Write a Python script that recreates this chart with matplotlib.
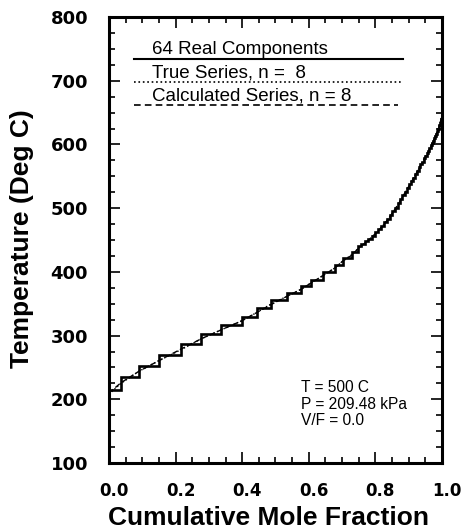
import matplotlib
matplotlib.use("Agg")
from matplotlib import pyplot as plt
from matplotlib.ticker import MultipleLocator
import matplotlib.transforms as mtransforms

plt.rcParams['font.family'] = ['Liberation Sans', 'DejaVu Sans']

# staircase of the 64 real components: step edges and level of each step
step_edges = [0.0, 0.036, 0.090, 0.151, 0.217, 0.277, 0.337, 0.398, 0.443, 0.488,
              0.536, 0.578, 0.608, 0.642, 0.678, 0.702, 0.729, 0.747, 0.758, 0.769,
              0.779, 0.789, 0.799, 0.808, 0.817, 0.826, 0.835, 0.843, 0.851, 0.859,
              0.867, 0.874, 0.881, 0.888, 0.895, 0.901, 0.907, 0.913, 0.919, 0.925,
              0.930, 0.935, 0.940, 0.945, 0.950, 0.954, 0.958, 0.962, 0.966, 0.970,
              0.973, 0.976, 0.979, 0.982, 0.985, 0.988, 0.990, 0.992, 0.994, 0.996,
              0.997, 0.998, 0.999, 0.9995, 1.0]
step_temps = [214, 235, 252, 269, 287, 302, 316, 329, 343, 356,
              367, 378, 387, 400, 411, 422, 431, 440, 444, 448,
              452, 457, 462, 467, 472, 478, 483, 489, 495, 501,
              508, 514, 520, 526, 532, 538, 543, 548, 554, 559,
              564, 569, 573, 578, 582, 586, 590, 594, 599, 603,
              606, 610, 614, 617, 621, 625, 628, 630, 633, 636,
              638, 640, 642, 644]

# smooth series curves (true and calculated, n = 8)
true_x = [0.0, 0.036, 0.090, 0.151, 0.217, 0.277, 0.337, 0.398, 0.443, 0.488,
          0.536, 0.578, 0.608, 0.642, 0.678, 0.702, 0.729, 0.747, 0.78, 0.80,
          0.82, 0.84, 0.86, 0.88, 0.90, 0.92, 0.94, 0.96, 0.97, 0.98, 0.99, 1.0]
true_t = [208, 225, 244, 261, 278, 295, 309, 323, 336, 350,
          362, 373, 383, 394, 406, 417, 427, 436, 450, 460,
          471, 484, 499, 516, 534, 552, 571, 590, 601, 613, 626, 645]
calc_x = true_x
calc_t = [210, 226, 244, 261, 279, 295, 309, 323, 336, 349,
          362, 373, 383, 394, 406, 417, 426, 436, 450, 460,
          471, 484, 499, 516, 534, 552, 571, 590, 601, 613, 626, 644]

legend_labels = ['64 Real Components', 'True Series, n =  8', 'Calculated Series, n = 8']
conditions = ['T = 500 C', 'P = 209.48 kPa', 'V/F = 0.0']

fig = plt.figure(figsize=(4.61, 5.31), dpi=100)
ax = fig.add_axes([0.2364, 0.128, 0.7224, 0.840])

# staircase drawn from the step edges
xs = []
ys = []
for i in range(len(step_temps)):
    xs += [step_edges[i], step_edges[i + 1]]
    ys += [step_temps[i], step_temps[i]]
ax.plot(xs, ys, color='black', lw=1.9, solid_joinstyle='miter')
ax.plot(true_x, true_t, color='black', lw=1.0, linestyle=':')
ax.plot(calc_x, calc_t, color='black', lw=1.0, linestyle='--', dashes=(4, 2))

# legend drawn as text with the line styles underneath
ax.text(0.13, 742, legend_labels[0], fontsize=13.5, va='baseline')
ax.plot([0.075, 0.883], [734, 734], color='black', lw=1.5)
ax.text(0.13, 705, legend_labels[1], fontsize=13.5, va='baseline')
ax.plot([0.075, 0.880], [698, 698], color='black', lw=1.2, linestyle=':')
ax.text(0.13, 669, legend_labels[2], fontsize=13.5, va='baseline')
ax.plot([0.075, 0.867], [662, 662], color='black', lw=1.2, linestyle='--', dashes=(4, 2.5))

for i, s in enumerate(conditions):
    ax.text(0.578, 218 - i * 26, s, fontsize=11.2, va='center')

ax.set_xlim(0, 1.0)
ax.set_ylim(100, 800)
ax.xaxis.set_major_locator(MultipleLocator(0.2))
ax.xaxis.set_minor_locator(MultipleLocator(0.05))
ax.yaxis.set_major_locator(MultipleLocator(100))
ax.yaxis.set_minor_locator(MultipleLocator(25))
ax.tick_params(which='both', direction='in', top=True, right=True, width=1.2)
ax.tick_params(which='major', length=8)
ax.tick_params(which='minor', length=4)
ax.tick_params(axis='x', pad=14)
ax.tick_params(axis='y', pad=15)
for lab in ax.get_xticklabels() + ax.get_yticklabels():
    lab.set_family('DejaVu Sans')
    lab.set_fontweight('bold')
for lab in ax.get_yticklabels():
    lab.set_fontsize(13)
for lab in ax.get_xticklabels():
    lab.set_fontsize(12)
for spine in ax.spines.values():
    spine.set_linewidth(2.2)

# nudge the x tick labels a little to the right, like the original
for i, lab in enumerate(ax.get_xticklabels()):
    dx = 14 if i == 0 else 5
    lab.set_transform(lab.get_transform() + mtransforms.ScaledTranslation(dx / 100, 0, fig.dpi_scale_trans))

ax.set_xlabel('Cumulative Mole Fraction', fontsize=19, fontweight='bold', va='center')
ax.set_ylabel('Temperature (Deg C)', fontsize=19, fontweight='bold', va='center')
ax.xaxis.set_label_coords(0.48, -0.123)
ax.yaxis.set_label_coords(-0.261, 0.504)

fig.savefig('out.png', dpi=100)
